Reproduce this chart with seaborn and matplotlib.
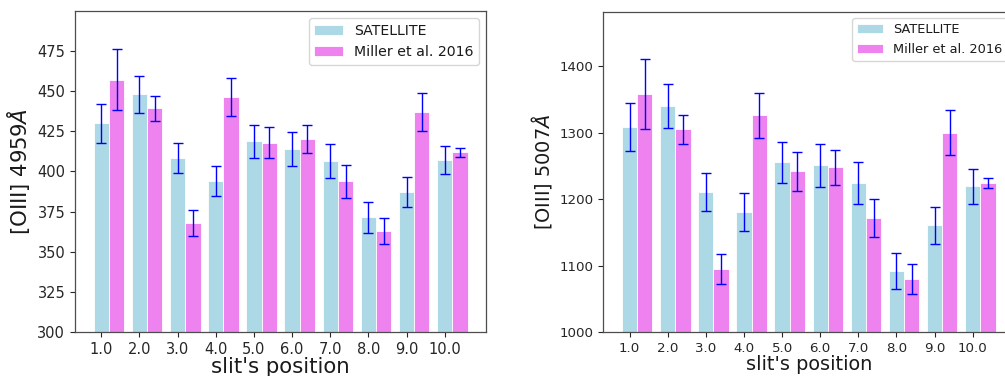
import matplotlib
matplotlib.use("Agg")
import matplotlib.pyplot as plt
import seaborn as sns

# Slit positions along the nebula
positions = [1.0, 2.0, 3.0, 4.0, 5.0, 6.0, 7.0, 8.0, 9.0, 10.0]

# [OIII] 4959 fluxes with uncertainties
sat_4959 = [430.0, 448.0, 408.3, 394.2, 418.7, 414.0, 406.7, 371.4, 387.2, 407.1]
sat_4959_err = [12.0, 11.5, 9.5, 9.5, 10.5, 10.7, 10.5, 9.5, 9.2, 8.8]
mil_4959 = [457.0, 439.2, 368.0, 446.3, 417.9, 420.2, 393.8, 363.0, 436.8, 412.0]
mil_4959_err = [19.0, 7.8, 8.0, 12.0, 9.7, 9.0, 10.0, 7.8, 11.8, 2.9]

# [OIII] 5007 fluxes with uncertainties
sat_5007 = [1308.0, 1340.0, 1210.7, 1180.7, 1255.8, 1251.3, 1224.2, 1091.6, 1160.7, 1219.3]
sat_5007_err = [36.0, 33.5, 28.5, 28.0, 31.0, 32.5, 32.0, 27.0, 28.0, 26.3]
mil_5007 = [1358.4, 1304.9, 1095.1, 1326.0, 1241.8, 1247.8, 1171.2, 1080.0, 1299.8, 1224.7]
mil_5007_err = [53.0, 22.0, 22.0, 34.0, 29.0, 27.0, 28.5, 23.0, 34.0, 8.0]

series_names = ["SATELLITE", "Miller et al. 2016"]
series_colors = ["lightblue", "violet"]

sns.set_theme(style="ticks")
plt.rcParams["font.family"] = ["DejaVu Sans"]
plt.rcParams.update({
    "axes.edgecolor": ".3",
    "axes.linewidth": 0.9,
    "xtick.color": ".15",
    "ytick.color": ".15",
    "xtick.major.size": 3.5,
    "ytick.major.size": 3.5,
    "xtick.major.width": 0.8,
    "ytick.major.width": 0.8,
    "text.color": ".1",
    "axes.labelcolor": ".1",
})

BAR_W = 0.4


def draw_panel(ax, sat, sat_err, mil, mil_err, ylabel, ymin,
               tick_fs, label_fs, legend_fs):
    mil_pos = [p + BAR_W for p in positions]
    sns.barplot(x=positions, y=sat, native_scale=True, orient="x",
                width=BAR_W, color=series_colors[0], saturation=1,
                errorbar=None, edgecolor="white", linewidth=0.6,
                label=series_names[0], ax=ax)
    sns.barplot(x=mil_pos, y=mil, native_scale=True, orient="x",
                width=BAR_W, color=series_colors[1], saturation=1,
                errorbar=None, edgecolor="white", linewidth=0.6,
                label=series_names[1], ax=ax)
    ax.errorbar(positions, sat, yerr=sat_err, fmt="none", ecolor="blue",
                elinewidth=1.0, capsize=3.4, capthick=1.0, zorder=5)
    ax.errorbar(mil_pos, mil, yerr=mil_err, fmt="none", ecolor="blue",
                elinewidth=1.0, capsize=3.4, capthick=1.0, zorder=5)

    top = 1.05 * max([v + e for v, e in zip(sat + mil, sat_err + mil_err)])
    ax.set_ylim(ymin, top)
    ax.set_xlim(0.31, 11.09)
    ax.set_xticks(positions)
    ax.set_xticklabels([f"{p:.1f}" for p in positions])
    ax.tick_params(axis="both", labelsize=tick_fs)
    ax.set_xlabel("slit's position", fontsize=label_fs, labelpad=0)
    ax.set_ylabel(ylabel, fontsize=label_fs)
    ax.legend(loc="upper right", fontsize=legend_fs, frameon=True)
    for side in ["top", "right", "left", "bottom"]:
        ax.spines[side].set_visible(True)


W, H = 1005.0, 376.0
fig = plt.figure(figsize=(W / 100, H / 100), dpi=100)

ax1 = fig.add_axes([75 / W, (H - 332.3) / H, 411.3 / W, 321.3 / H])
draw_panel(ax1, sat_4959, sat_4959_err, mil_4959, mil_4959_err,
           r"[OIII] 4959$\AA$", 300, 10.5, 15.3, 10.2)

ax2 = fig.add_axes([603.3 / W, (H - 332.3) / H, 411.0 / W, 320.6 / H])
draw_panel(ax2, sat_5007, sat_5007_err, mil_5007, mil_5007_err,
           r"[OIII] 5007$\AA$", 1000, 9.6, 13.9, 9.3)

fig.savefig("out.png", dpi=100)
